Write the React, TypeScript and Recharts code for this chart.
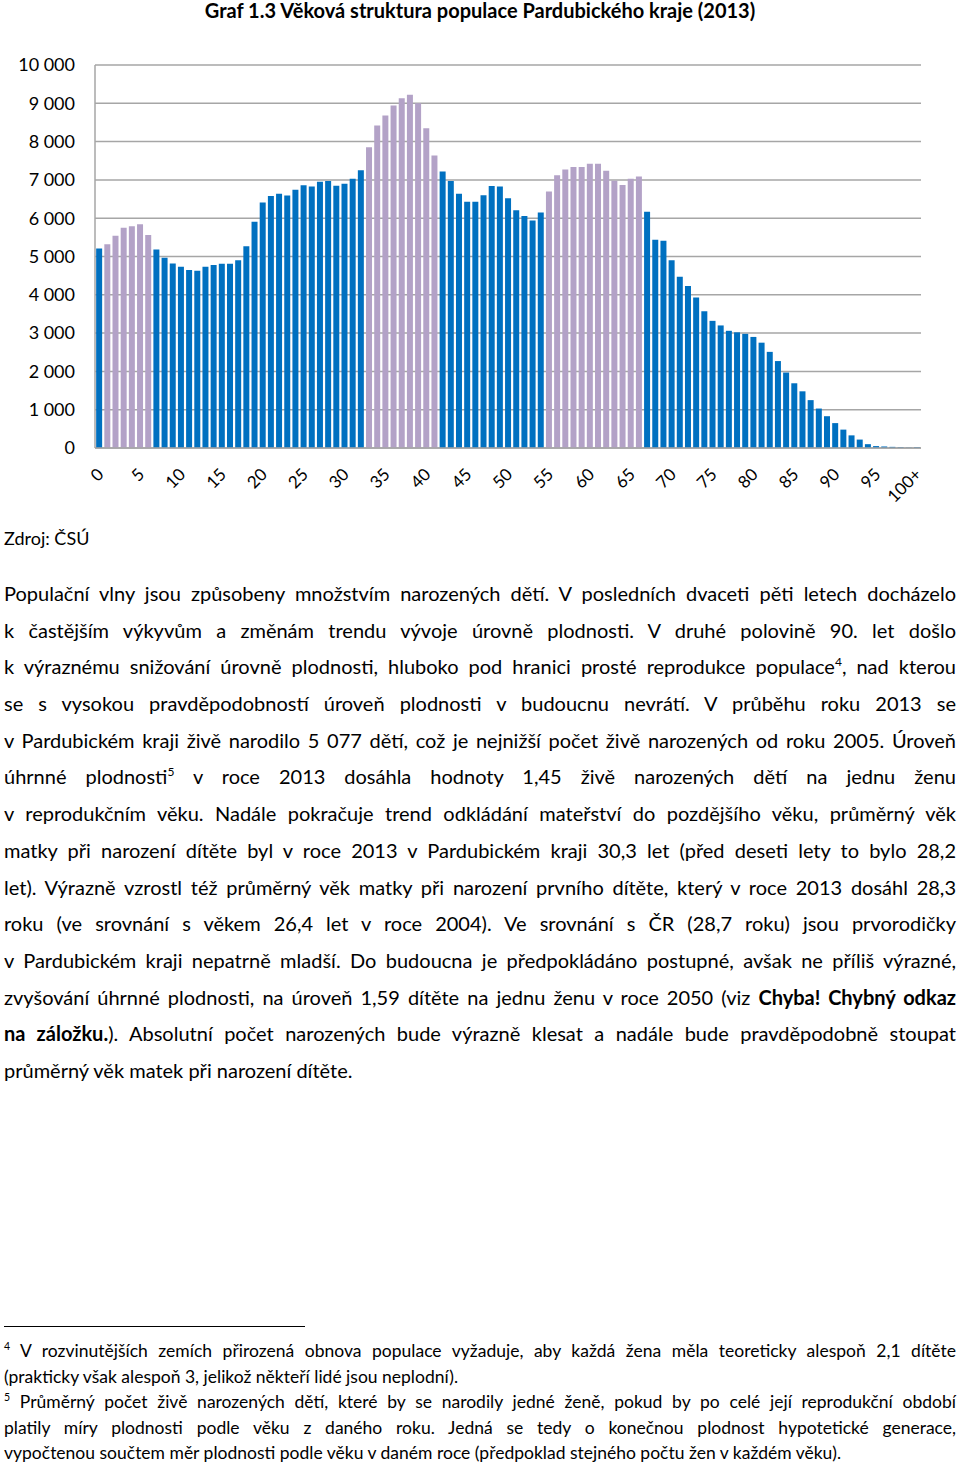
import React from "react"
import { Bar, BarChart, CartesianGrid, Cell, XAxis, YAxis } from "recharts"

// age categories 0 .. 100+
const ages = [
    "0", "1", "2", "3", "4", "5", "6", "7", "8", "9",
    "10", "11", "12", "13", "14", "15", "16", "17", "18", "19",
    "20", "21", "22", "23", "24", "25", "26", "27", "28", "29",
    "30", "31", "32", "33", "34", "35", "36", "37", "38", "39",
    "40", "41", "42", "43", "44", "45", "46", "47", "48", "49",
    "50", "51", "52", "53", "54", "55", "56", "57", "58", "59",
    "60", "61", "62", "63", "64", "65", "66", "67", "68", "69",
    "70", "71", "72", "73", "74", "75", "76", "77", "78", "79",
    "80", "81", "82", "83", "84", "85", "86", "87", "88", "89",
    "90", "91", "92", "93", "94", "95", "96", "97", "98", "99",
    "100+",
]

// number of inhabitants by age
const population = [
    5210, 5320, 5540, 5750, 5790, 5840, 5560, 5180, 4970, 4820,
    4730, 4650, 4630, 4730, 4780, 4810, 4810, 4900, 5270, 5910,
    6410, 6580, 6640, 6590, 6740, 6860, 6830, 6950, 6970, 6850,
    6900, 7030, 7250, 7850, 8420, 8680, 8940, 9130, 9220, 9000,
    8350, 7640, 7220, 6970, 6640, 6430, 6430, 6600, 6840, 6830,
    6520, 6210, 6060, 5940, 6150, 6700, 7120, 7270, 7340, 7340,
    7420, 7420, 7240, 6980, 6870, 7030, 7090, 6170, 5440, 5410,
    4900, 4470, 4230, 3930, 3570, 3320, 3200, 3060, 3020, 2980,
    2900, 2750, 2510, 2270, 1970, 1690, 1480, 1250, 1030, 830,
    650, 480, 330, 220, 100, 50, 40, 30, 20, 10,
    20,
]

// population waves (highlighted age ranges)
const waveRanges = [
    [1, 6],
    [33, 41],
    [55, 66],
]

const yTicks = [0, 1000, 2000, 3000, 4000, 5000, 6000, 7000, 8000, 9000, 10000]

const paragraphLines = [
    "Populační vlny jsou způsobeny množstvím narozených dětí. V posledních dvaceti pěti letech docházelo",
    "k častějším výkyvům a změnám trendu vývoje úrovně plodnosti. V druhé polovině 90. let došlo",
    "k výraznému snižování úrovně plodnosti, hluboko pod hranici prosté reprodukce populace^4, nad kterou",
    "se s vysokou pravděpodobností úroveň plodnosti v budoucnu nevrátí. V průběhu roku 2013 se",
    "v Pardubickém kraji živě narodilo 5 077 dětí, což je nejnižší počet živě narozených od roku 2005. Úroveň",
    "úhrnné plodnosti^5 v roce 2013 dosáhla hodnoty 1,45 živě narozených dětí na jednu ženu",
    "v reprodukčním věku. Nadále pokračuje trend odkládání mateřství do pozdějšího věku, průměrný věk",
    "matky při narození dítěte byl v roce 2013 v Pardubickém kraji 30,3 let (před deseti lety to bylo 28,2",
    "let). Výrazně vzrostl též průměrný věk matky při narození prvního dítěte, který v roce 2013 dosáhl 28,3",
    "roku (ve srovnání s věkem 26,4 let v roce 2004). Ve srovnání s ČR (28,7 roku) jsou prvorodičky",
    "v Pardubickém kraji nepatrně mladší. Do budoucna je předpokládáno postupné, avšak ne příliš výrazné,",
    "zvyšování úhrnné plodnosti, na úroveň 1,59 dítěte na jednu ženu v roce 2050 (viz *Chyba! Chybný odkaz*",
    "*na záložku.*). Absolutní počet narozených bude výrazně klesat a nadále bude pravděpodobně stoupat",
    "průměrný věk matek při narození dítěte.",
]

const footnoteLines = [
    "^4 V rozvinutějších zemích přirozená obnova populace vyžaduje, aby každá žena měla teoreticky alespoň 2,1 dítěte",
    "(prakticky však alespoň 3, jelikož někteří lidé jsou neplodní).",
    "^5 Průměrný počet živě narozených dětí, které by se narodily jedné ženě, pokud by po celé její reprodukční období",
    "platily míry plodnosti podle věku z daného roku. Jedná se tedy o konečnou plodnost hypotetické generace,",
    "vypočtenou součtem měr plodnosti podle věku v daném roce (předpoklad stejného počtu žen v každém věku).",
]
const footnoteJustified = [true, false, true, true, false]

const data = ages.map((age, i) => ({ age, value: population[i] }))

const BLUE = "#0070C0"
const PURPLE = "#B3A2C7"
const GRID = "#A6A6A6"
const FONT = "Lato, 'Open Sans', sans-serif"

const isWave = (i: number) => waveRanges.some(([a, b]) => i >= a && i <= b)

const fmt = (v: number) => (v >= 1000 ? `${Math.floor(v / 1000)} ${String(v % 1000).padStart(3, "0")}` : String(v))

function AgeTick(props: any) {
    const { x, y, payload } = props
    const ax = x + 1
    const ay = y + 15
    return (
        <text
            x={ax}
            y={ay}
            transform={`rotate(-45 ${ax} ${ay})`}
            textAnchor="end"
            dominantBaseline="central"
            fontSize={17}
            fontFamily={FONT}
            fill="#000"
        >
            {payload.value}
        </text>
    )
}

// renders ^4 as superscript and *...* as bold
function RichLine({ text }: { text: string }) {
    const parts = text.split(/(\^\d|\*[^*]+\*)/)
    return (
        <>
            {parts.map((p, i) => {
                if (p.startsWith("^")) return <sup key={i} style={{ fontSize: "0.6em", lineHeight: 0 }}>{p.slice(1)}</sup>
                if (p.startsWith("*")) return <b key={i}>{p.slice(1, -1)}</b>
                return <React.Fragment key={i}>{p}</React.Fragment>
            })}
        </>
    )
}

export default function App() {
    return (
        <div style={{ position: "absolute", left: 0, top: 0, width: 960, height: 1468, background: "#fff", fontFamily: FONT, color: "#000" }}>
            <div style={{ position: "absolute", top: 0, left: 0, width: 960, textAlign: "center", fontWeight: 700, fontSize: 20, lineHeight: "20px" }}>
                Graf 1.3 Věková struktura populace Pardubického kraje (2013)
            </div>
            <div style={{ position: "absolute", top: 0, left: 0 }}>
                <BarChart width={960} height={520} data={data} margin={{ top: 65, right: 39, bottom: 12, left: 0 }} barCategoryGap="14%">
                    <CartesianGrid vertical={false} stroke={GRID} strokeWidth={1.5} />
                    <XAxis
                        dataKey="age"
                        interval={4}
                        height={60}
                        tickLine={false}
                        axisLine={{ stroke: GRID, strokeWidth: 1.5 }}
                        tick={<AgeTick />}
                    />
                    <YAxis
                        domain={[0, 10000]}
                        ticks={yTicks}
                        width={95}
                        tickSize={0}
                        tickMargin={20}
                        tickFormatter={fmt}
                        axisLine={{ stroke: GRID, strokeWidth: 1.5 }}
                        tick={{ fontSize: 18, fill: "#000", fontFamily: FONT }}
                    />
                    <YAxis yAxisId="r" orientation="right" width={0} tick={false} tickLine={false} axisLine={{ stroke: GRID, strokeWidth: 1.5 }} />
                    <Bar dataKey="value" isAnimationActive={false}>
                        {data.map((d, i) => (
                            <Cell key={d.age} fill={isWave(i) ? PURPLE : BLUE} />
                        ))}
                    </Bar>
                </BarChart>
            </div>
            <div style={{ position: "absolute", top: 526, left: 4, fontSize: 18, lineHeight: "24px" }}>Zdroj: ČSÚ</div>
            <div style={{ position: "absolute", top: 575, left: 4, width: 952, fontSize: 20 }}>
                {paragraphLines.map((line, i) => {
                    const last = i === paragraphLines.length - 1
                    return (
                        <div key={i} style={{ height: 36.7, lineHeight: "36.7px", textAlign: last ? "left" : "justify", textAlignLast: last ? "left" : "justify", whiteSpace: "nowrap" }}>
                            <RichLine text={line} />
                        </div>
                    )
                })}
            </div>
            <div style={{ position: "absolute", top: 1326, left: 4, width: 301, borderTop: "1px solid #000" }} />
            <div style={{ position: "absolute", top: 1338, left: 4, width: 952, fontSize: 17.5 }}>
                {footnoteLines.map((line, i) => (
                    <div key={i} style={{ height: 25.5, lineHeight: "25.5px", textAlign: footnoteJustified[i] ? "justify" : "left", textAlignLast: footnoteJustified[i] ? "justify" : "left", whiteSpace: "nowrap" }}>
                        <RichLine text={line} />
                    </div>
                ))}
            </div>
        </div>
    )
}
